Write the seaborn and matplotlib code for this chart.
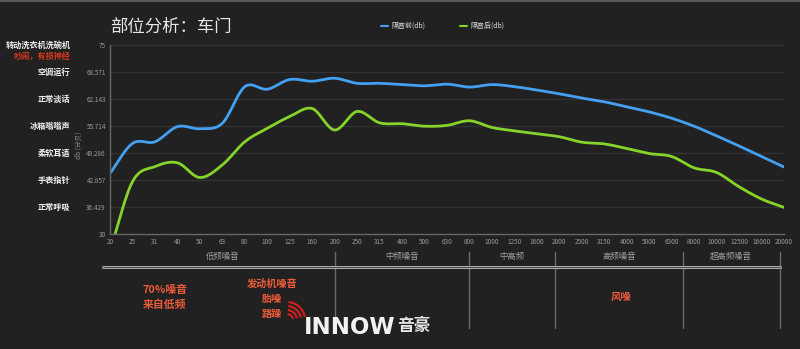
import numpy as np
import pandas as pd
import seaborn as sns
import matplotlib.pyplot as plt
from matplotlib.lines import Line2D
from matplotlib.patches import Arc
from matplotlib.transforms import blended_transform_factory

# ---------------- data ----------------
freqs = ["20", "25", "31", "40", "50", "63", "80", "100", "125", "160", "200",
         "250", "315", "400", "500", "630", "800", "1000", "1250", "1600", "2000",
         "2500", "3150", "4000", "5000", "6300", "8000", "10000", "12500", "16000", "20000"]
before = [44.5, 51.6, 52.0, 55.6, 55.1, 56.4, 65.1, 64.5, 66.8, 66.4, 67.1,
          65.9, 65.9, 65.6, 65.3, 65.7, 65.0, 65.6, 65.1, 64.3, 63.4,
          62.4, 61.5, 60.3, 59.1, 57.6, 55.7, 53.4, 51.0, 48.5, 46.0]
after = [26.0, 42.5, 46.1, 47.0, 43.5, 46.5, 52.0, 55.2, 58.0, 59.9, 54.8,
         59.2, 56.5, 56.3, 55.7, 55.9, 57.0, 55.4, 54.6, 53.9, 53.2,
         51.9, 51.5, 50.4, 49.2, 48.5, 45.8, 44.7, 41.3, 38.4, 36.4]
series_names = ["隔音前(db)", "隔音后(db)"]
y_ticks = [30, 36.429, 42.857, 49.286, 55.714, 62.143, 68.571, 75]
y_tick_labels = ["30", "36.429", "42.857", "49.286", "55.714", "62.143", "68.571", "75"]
level_labels = ["正常呼吸", "手表指针", "柔软耳语", "冰箱嗡嗡声", "正常谈话", "空调运行"]
level_values = [36.429, 42.857, 49.286, 55.714, 62.143, 68.571]
top_label = "转动洗衣机洗碗机"
top_label_red = "吵闹，有损神经"
bands = ["低频噪音", "中频噪音", "中高频", "高频噪音", "超高频噪音"]
band_edges = [10, 16, 19.8, 25.5, 29.8]
title = "部位分析：车门"

BG = "#212121"
BLUE = "#43a0f2"
GREEN = "#86d42a"
RED = "#ee5a3a"

sns.set_theme(style="dark")
plt.rcParams['font.family'] = ['Noto Sans CJK SC', 'DejaVu Sans']


def catmull(xs, ys, n=24):
    xs = np.asarray(xs, float); ys = np.asarray(ys, float)
    px = np.concatenate([[2 * xs[0] - xs[1]], xs, [2 * xs[-1] - xs[-2]]])
    py = np.concatenate([[2 * ys[0] - ys[1]], ys, [2 * ys[-1] - ys[-2]]])
    ox, oy = [], []
    t = np.linspace(0, 1, n, endpoint=False)
    for i in range(1, len(px) - 2):
        for arr, out in ((px, ox), (py, oy)):
            p0, p1, p2, p3 = arr[i - 1], arr[i], arr[i + 1], arr[i + 2]
            out.extend(0.5 * ((2 * p1) + (-p0 + p2) * t + (2 * p0 - 5 * p1 + 4 * p2 - p3) * t ** 2
                              + (-p0 + 3 * p1 - 3 * p2 + p3) * t ** 3))
    ox.append(xs[-1]); oy.append(ys[-1])
    return np.array(ox), np.array(oy)


idx = np.arange(len(freqs))
frames = []
for name, vals in zip(series_names, [before, after]):
    sx, sy = catmull(idx, vals)
    frames.append(pd.DataFrame({"x": sx, "y": sy, "series": name}))
df = pd.concat(frames, ignore_index=True)

fig = plt.figure(figsize=(8, 3.49), dpi=100, facecolor=BG)
ax = fig.add_axes([0.1375, 0.3286, 0.8425, 0.5424])
ax.set_facecolor(BG)

sns.lineplot(data=df, x="x", y="y", hue="series", palette=[BLUE, GREEN],
             sort=False, estimator=None, linewidth=2.0, ax=ax, legend=False)

ax.set_xlim(0, len(freqs) - 1)
ax.set_ylim(30, 75)
ax.set_xticks(idx)
ax.set_xticklabels(freqs, fontsize=4.6, color="#9a9a9a")
ax.set_yticks(y_ticks)
ax.set_yticklabels(y_tick_labels, fontsize=4.6, color="#9a9a9a")
ax.tick_params(axis="both", length=0, pad=3)
ax.set_xlabel("")
ax.set_ylabel("db (分贝)", fontsize=4.8, color="#888888")
ax.yaxis.set_label_coords(-0.04, 0.47)
ax.grid(False)
for v in y_ticks[1:]:
    ax.axhline(v, color="#333333", linewidth=0.9, zorder=0)
for s in ["top", "right"]:
    ax.spines[s].set_visible(False)
for s in ["left", "bottom"]:
    ax.spines[s].set_color("#666666")
    ax.spines[s].set_linewidth(1.0)

# level labels on the left
ytr = blended_transform_factory(fig.transFigure, ax.transData)
for lab, v in zip(level_labels, level_values):
    fig.text(0.088, v, lab, transform=ytr, ha="right", va="center",
             fontsize=5.9, color="#f0f0f0", fontweight="bold")
fig.text(0.088, 1 - 45 / 349, top_label, ha="right", va="center",
         fontsize=5.9, color="#f0f0f0", fontweight="bold")
fig.text(0.088, 1 - 56 / 349, top_label_red, ha="right", va="center",
         fontsize=5.9, color="#d8361f", fontweight="bold")

# title
fig.text(110 / 800, 1 - 27 / 349, title, ha="left", va="center",
         fontsize=12.5, color="#e8e8e8")

# legend
handles = [Line2D([0], [0], color=BLUE, lw=1.5), Line2D([0], [0], color=GREEN, lw=1.5)]
fig.legend(handles, series_names, loc="center left", bbox_to_anchor=(375 / 800, 1 - 26 / 349),
           ncol=2, frameon=False, fontsize=5, labelcolor="#dddddd",
           handlelength=0.9, handletextpad=0.6, columnspacing=5.0)

# top border line
fig.add_artist(Line2D([0, 1], [0.998, 0.998], transform=fig.transFigure,
                      color="#5a5a5a", lw=1.5))

# frequency bands below the axis
xtr = blended_transform_factory(ax.transData, fig.transFigure)
y_top = 1 - 252 / 349
y_bot = 1 - 328 / 349
y_h = 1 - 266.5 / 349
x_left = -0.3
for e in band_edges:
    ax.add_artist(Line2D([e, e], [y_bot, y_top], transform=xtr, color="#6a6a6a",
                         lw=1.0, clip_on=False))
ax.add_artist(Line2D([x_left, band_edges[-1]], [y_h, y_h], transform=xtr,
                     color="#a8a8a8", lw=2.2, clip_on=False))
ax.add_artist(Line2D([x_left, band_edges[-1]], [y_h, y_h], transform=xtr,
                     color=BG, lw=0.5, clip_on=False))
starts = [0] + band_edges[:-1]
for lab, a, b in zip(bands, starts, band_edges):
    ax.text((a + b) / 2, 1 - 256 / 349, lab, transform=xtr, ha="center", va="center",
            fontsize=6, color="#a0a0a0", clip_on=False)

# annotations
fig.text(165 / 800, 1 - 290 / 349, "70%噪音", ha="center", va="center",
         fontsize=7.8, color=RED, fontweight="bold")
fig.text(165 / 800, 1 - 305 / 349, "来自低频", ha="center", va="center",
         fontsize=7.8, color=RED, fontweight="bold")
fig.text(272 / 800, 1 - 284 / 349, "发动机噪音", ha="center", va="center",
         fontsize=7.3, color=RED, fontweight="bold")
fig.text(272 / 800, 1 - 299 / 349, "胎噪", ha="center", va="center",
         fontsize=7.3, color=RED, fontweight="bold")
fig.text(272 / 800, 1 - 314 / 349, "路躁", ha="center", va="center",
         fontsize=7.3, color=RED, fontweight="bold")
fig.text(621 / 800, 1 - 297 / 349, "风噪", ha="center", va="center",
         fontsize=7.5, color=RED, fontweight="bold")

# logo
fig.text(304 / 800, 1 - 327 / 349, "INNOW", ha="left", va="center", fontsize=16.5,
         color="#f2f2f2", fontweight="bold", family=["DejaVu Sans"])
fig.text(397 / 800, 1 - 326 / 349, "音豪", ha="left", va="center", fontsize=12,
         color="#e6e6e6", fontweight="bold")
lax = fig.add_axes([282 / 800, 1 - 322 / 349, 26 / 800, 26 / 349])
lax.set_xlim(0, 26); lax.set_ylim(0, 26)
lax.axis("off")
for r in [6, 10, 14, 18]:
    lax.add_patch(Arc((5, 2), 2 * r, 2 * r, theta1=10, theta2=85, color="#cc1f1f", lw=1.6))

fig.savefig("out.png", dpi=100, facecolor=BG)
